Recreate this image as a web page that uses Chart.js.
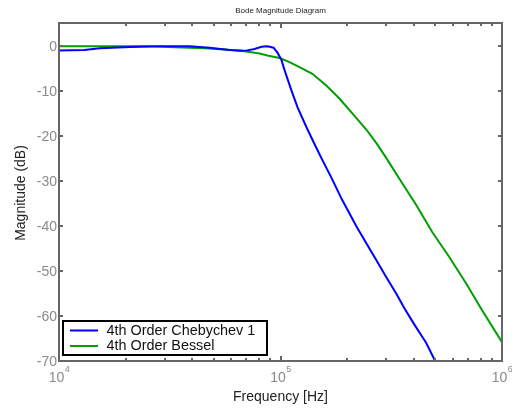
<!DOCTYPE html>
<html>
<head>
<meta charset="utf-8">
<script src="https://cdn.jsdelivr.net/npm/chart.js@4/dist/chart.umd.min.js"></script>
<style>
  html, body { margin: 0; padding: 0; background: #fff; }
  canvas { display: block; }
</style>
</head>
<body>
<canvas id="bode" width="512" height="409"></canvas>
<script>
// ============================
// DATA
// ============================
const chebFreq = [1.0e4, 1.3e4, 1.53e4, 2.09e4, 2.85e4, 3.89e4, 4.79e4, 5.89e4, 6.89e4, 7.64e4,
  8.21e4, 8.74e4, 9.3e4, 9.69e4, 1.01e5, 1.043e5, 1.12e5, 1.193e5, 1.31e5, 1.42e5,
  1.546e5, 1.697e5, 1.9e5, 2.2e5, 2.44e5, 2.71e5, 3.0e5, 3.33e5, 3.62e5, 4.01e5, 4.55e5, 4.99e5];
const chebMag = [-0.9, -0.8, -0.4, -0.15, 0, 0, -0.3, -0.8, -1.0, -0.6,
  -0.1, 0, -0.3, -1.4, -3.0, -5.3, -9.8, -13.5, -18, -21.6,
  -25.3, -29.2, -34.2, -40, -43.8, -47.6, -51.3, -55, -58.2, -61.8, -66, -70];

const besselFreq = [1.0e4, 2.57e4, 3.33e4, 4.55e4, 5.59e4, 6.89e4, 8.04e4, 8.83e4, 9.9e4, 1.098e5,
  1.218e5, 1.393e5, 1.61e5, 1.844e5, 2.11e5, 2.44e5, 2.735e5, 3.0e5, 3.435e5, 4.1e5,
  4.84e5, 5.77e5, 6.88e5, 8.13e5, 1.0e6];
const besselMag = [0, 0, -0.2, -0.4, -0.7, -1.1, -1.6, -2.1, -2.6, -3.5,
  -4.6, -6.1, -8.7, -11.6, -14.9, -18.5, -21.8, -24.8, -29.4, -35.3,
  -41.3, -46.8, -52.7, -58.7, -65.8];

const seriesNames = ["4th Order Chebychev 1", "4th Order Bessel"];
const yTicks = [0, -10, -20, -30, -40, -50, -60, -70];
const xDecades = [4, 5, 6];

// ============================
// STYLE
// ============================
const FONT = "'Liberation Sans', Arial, sans-serif";
const AXIS_GREY = "#666666";
const LABEL_GREY = "#8a8a8a";

function pts(fs, ms){ return fs.map((f,i)=>({x:f, y:ms[i]})); }

// ============================
// FRAME, TICKS, LABELS, LEGEND
// ============================
const bodeDecor = {
  id: "bodeDecor",
  afterDatasetsDraw(chart){
    const ctx = chart.ctx;
    const a = chart.chartArea;
    const xs = chart.scales.x, ys = chart.scales.y;
    ctx.save();

    // frame
    ctx.strokeStyle = AXIS_GREY;
    ctx.lineWidth = 2;
    ctx.strokeRect(a.left, a.top, a.right - a.left, a.bottom - a.top);

    // x ticks (major + minor), top and bottom
    for(let d = 4; d <= 6; d++){
      for(let m = 1; m <= 9; m++){
        const v = m * Math.pow(10, d);
        if(v > 1e6) break;
        const px = Math.round(xs.getPixelForValue(v));
        const len = m === 1 ? 5 : 3;
        ctx.beginPath();
        ctx.moveTo(px, a.bottom); ctx.lineTo(px, a.bottom - len);
        ctx.moveTo(px, a.top); ctx.lineTo(px, a.top + len);
        ctx.stroke();
      }
    }
    // y ticks, left and right
    yTicks.forEach(t=>{
      const py = Math.round(ys.getPixelForValue(t));
      ctx.beginPath();
      ctx.moveTo(a.left, py); ctx.lineTo(a.left + 4, py);
      ctx.moveTo(a.right, py); ctx.lineTo(a.right - 4, py);
      ctx.stroke();
    });

    // y tick labels
    ctx.fillStyle = LABEL_GREY;
    ctx.font = "14px " + FONT;
    ctx.textAlign = "right";
    ctx.textBaseline = "middle";
    yTicks.forEach(t=>{
      ctx.fillText(String(t), a.left - 2, ys.getPixelForValue(t) + 1);
    });

    // x tick labels 10^n
    ctx.textBaseline = "alphabetic";
    xDecades.forEach(d=>{
      const px = xs.getPixelForValue(Math.pow(10, d));
      ctx.font = "14px " + FONT;
      const wBase = ctx.measureText("10").width;
      ctx.font = "9px " + FONT;
      const wExp = ctx.measureText(String(d)).width;
      const x0 = px - (wBase + wExp) / 2;
      ctx.textAlign = "left";
      ctx.font = "14px " + FONT;
      ctx.fillText("10", x0, 382);
      ctx.font = "9px " + FONT;
      ctx.fillText(String(d), x0 + wBase + 0.5, 372);
    });

    // axis titles
    ctx.fillStyle = "#222";
    ctx.font = "14px " + FONT;
    ctx.textAlign = "center";
    ctx.textBaseline = "middle";
    ctx.fillText("Frequency [Hz]", (a.left + a.right) / 2, 397);
    ctx.save();
    ctx.translate(21, 193);
    ctx.rotate(-Math.PI / 2);
    ctx.fillText("Magnitude (dB)", 0, 0);
    ctx.restore();

    // title
    ctx.font = "8px " + FONT;
    ctx.fillText("Bode Magnitude Diagram", (a.left + a.right) / 2, 11);

    // legend
    const lx = 63, ly = 321, lw = 204, lh = 34;
    ctx.fillStyle = "#fff";
    ctx.fillRect(lx, ly, lw, lh);
    ctx.strokeStyle = "#000";
    ctx.lineWidth = 2;
    ctx.strokeRect(lx, ly, lw, lh);
    ctx.font = "14.4px " + FONT;
    ctx.textAlign = "left";
    chart.data.datasets.forEach((ds, i)=>{
      const yy = 330.5 + i * 15.5;
      ctx.strokeStyle = ds.borderColor;
      ctx.lineWidth = 2;
      ctx.beginPath();
      ctx.moveTo(70, yy); ctx.lineTo(98, yy);
      ctx.stroke();
      ctx.fillStyle = "#111";
      ctx.fillText(ds.label, 106.5, yy + 0.5);
    });

    ctx.restore();
  }
};

// ============================
// CHART
// ============================
new Chart(document.getElementById("bode"), {
  type: "line",
  data: {
    datasets: [{
      label: seriesNames[0],
      data: pts(chebFreq, chebMag),
      borderColor: "#0000ff",
      borderWidth: 2,
      pointRadius: 0,
      tension: 0
    },{
      label: seriesNames[1],
      data: pts(besselFreq, besselMag),
      borderColor: "#009f00",
      borderWidth: 2,
      pointRadius: 0,
      tension: 0
    }]
  },
  options: {
    responsive: false,
    animation: false,
    devicePixelRatio: 1,
    layout: { padding: { top: 23, right: 10, left: 0, bottom: 0 } },
    plugins: {
      legend: { display: false },
      title: { display: false },
      tooltip: { enabled: false }
    },
    scales: {
      x: {
        type: "logarithmic",
        min: 1e4, max: 1e6,
        ticks: { display: false },
        grid: { display: false },
        border: { display: false },
        afterFit(s){ s.height = 48; }
      },
      y: {
        type: "linear",
        min: -70, max: 5.2,
        ticks: { display: false },
        grid: { display: false },
        border: { display: false },
        afterFit(s){ s.width = 59; }
      }
    }
  },
  plugins: [bodeDecor]
});
</script>
</body>
</html>
